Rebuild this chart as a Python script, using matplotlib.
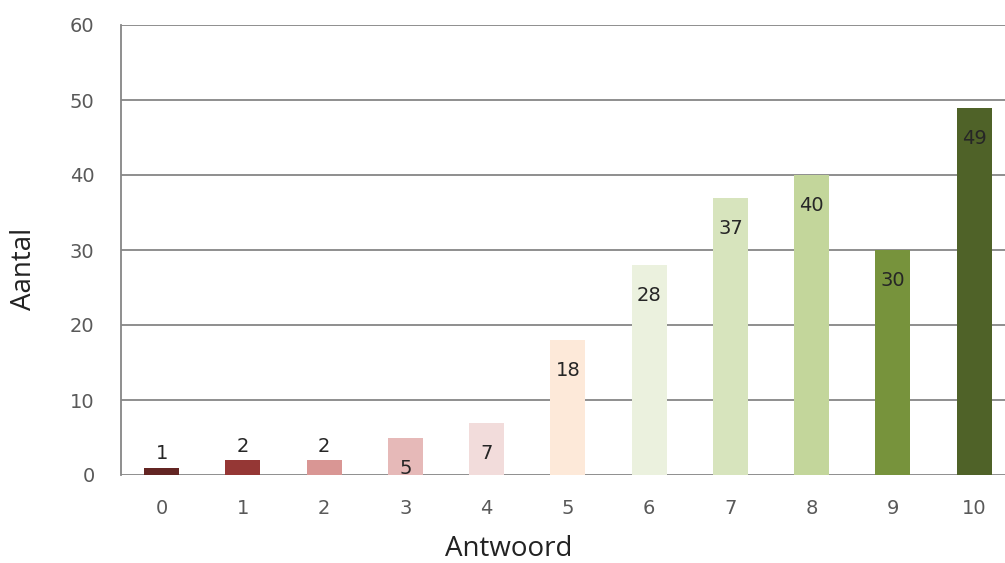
import matplotlib
matplotlib.use("Agg")
import matplotlib.pyplot as plt

answers = ["0", "1", "2", "3", "4", "5", "6", "7", "8", "9", "10"]
counts = [1, 2, 2, 5, 7, 18, 28, 37, 40, 30, 49]
colors = ["#632523", "#953735", "#d99694", "#e6b9b8", "#f2dcdb", "#fde9d9",
          "#ebf1de", "#d7e4bd", "#c3d69b", "#77933c", "#4f6228"]

fig = plt.figure(figsize=(10.05, 5.63), dpi=100)
ax = fig.add_axes([121 / 1005, (563 - 475) / 563, (1005 - 121) / 1005, 450 / 563])

x = list(range(len(answers)))
bars = ax.bar(x, counts, width=0.43, color=colors, zorder=3)

# Excel-style labels: inside the bar end, above it when the bar is short
for rect, val in zip(bars, counts):
    cx = rect.get_x() + rect.get_width() / 2
    dy = 10 if val < 3 else -22
    ax.annotate(str(val), (cx, val), xytext=(0, dy), textcoords="offset points",
                ha="center", va="center", fontsize=14, color="#262626", zorder=4)

ax.set_xlim(-0.5, 10.38)
ax.set_ylim(0, 60)
ax.set_yticks(range(0, 61, 10))
ax.set_xticks(x)
ax.set_xticklabels(answers)
ax.yaxis.grid(True, color="#868686", linewidth=1.3, zorder=0)

for side in ["top", "right", "bottom"]:
    ax.spines[side].set_visible(False)
ax.spines["left"].set_color("#868686")
ax.spines["left"].set_linewidth(1.3)
ax.tick_params(length=0, labelsize=14, labelcolor="#595959")
ax.tick_params(axis="y", pad=19)
ax.tick_params(axis="x", pad=17)

ax.set_xlabel("Antwoord", fontsize=20, family="Open Sans", color="#222222", va="center")
ax.set_ylabel("Aantal", fontsize=20, family="Open Sans", color="#222222", va="center")
ax.xaxis.set_label_coords(0.438, -0.164)
ax.yaxis.set_label_coords(-0.110, 0.458)

fig.savefig("out.png", dpi=100)
